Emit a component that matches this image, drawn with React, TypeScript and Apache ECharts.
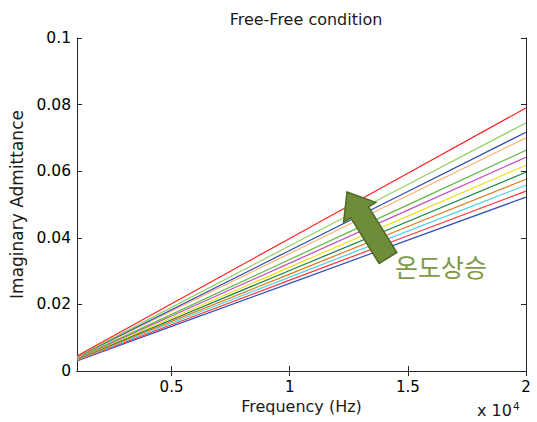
import React, { useEffect, useRef } from "react";
import * as echarts from "echarts";

const frequencies = [1000, 5000, 10000, 15000, 20000];

const line1 = [0.0045, 0.0202, 0.0398, 0.0594, 0.079];
const line2 = [0.0043, 0.0191, 0.0376, 0.056, 0.0745];
const line3 = [0.0042, 0.0184, 0.0362, 0.0539, 0.0717];
const line4 = [0.0041, 0.018, 0.0353, 0.0527, 0.07];
const line5 = [0.0039, 0.017, 0.0335, 0.0499, 0.0663];
const line6 = [0.0038, 0.0165, 0.0324, 0.0483, 0.0642];
const line7 = [0.0037, 0.0159, 0.0312, 0.0465, 0.0618];
const line8 = [0.0036, 0.0154, 0.0302, 0.0449, 0.0597];
const line9 = [0.0035, 0.0149, 0.0291, 0.0434, 0.0576];
const line10 = [0.0033, 0.0144, 0.0282, 0.042, 0.0558];
const line11 = [0.0032, 0.0139, 0.0273, 0.0406, 0.054];
const line12 = [0.003, 0.0134, 0.0263, 0.0393, 0.0522];

const allLines = [line1, line2, line3, line4, line5, line6, line7, line8, line9, line10, line11, line12];
const lineColors = [
  "#ff2020", "#8fd060", "#2848b0", "#ffb070", "#60b840", "#c050c0",
  "#f0e020", "#108040", "#e07818", "#50d0e8", "#ff3838", "#3050c0",
];

const xTicks = [5000, 10000, 15000, 20000];

const FONT = "'DejaVu Sans', sans-serif";

export default function App() {
  const ref = useRef<HTMLDivElement>(null);
  useEffect(() => {
    if (!ref.current) return;
    const chart = echarts.init(ref.current, null, { renderer: "svg" });
    const axisLine = { show: true, lineStyle: { color: "#262626", width: 1 } };
    const tick = { show: true, inside: true, length: 5, lineStyle: { color: "#262626" } };
    const option: any = {
      animation: false,
      backgroundColor: "#ffffff",
      title: {
        text: "Free-Free condition",
        left: 301,
        top: 6,
        textAlign: "center",
        textStyle: { fontFamily: FONT, fontSize: 16, fontWeight: "normal", color: "#1a1a1a" },
      },
      grid: { left: 77, right: 11, top: 38, bottom: 51, containLabel: false, outerBoundsMode: "none" },
      xAxis: [
        {
          type: "value",
          min: 1000,
          max: 20000,
          position: "bottom",
          axisLine,
          axisTick: { ...tick, customValues: xTicks },
          splitLine: { show: false },
          axisLabel: {
            customValues: xTicks,
            formatter: (v: number) => String(v / 10000),
            fontFamily: FONT,
            fontSize: 15,
            color: "#000",
            margin: 8,
          },
          name: "Frequency (Hz)",
          nameLocation: "middle",
          nameGap: 17,
          nameTextStyle: { fontFamily: FONT, fontSize: 16, color: "#1a1a1a" },
        },
        {
          type: "value",
          min: 1000,
          max: 20000,
          position: "top",
          axisLine,
          axisTick: { ...tick, customValues: xTicks },
          splitLine: { show: false },
          axisLabel: { show: false, customValues: xTicks },
        },
      ],
      yAxis: [
        {
          type: "value",
          min: 0,
          max: 0.1,
          interval: 0.02,
          position: "left",
          axisLine,
          axisTick: tick,
          splitLine: { show: false },
          axisLabel: {
            formatter: (v: number) => String(parseFloat(v.toFixed(2))),
            fontFamily: FONT,
            fontSize: 15.5,
            color: "#000",
            margin: 6,
          },
          name: "Imaginary Admittance",
          nameLocation: "middle",
          nameGap: 39,
          nameTextStyle: { fontFamily: FONT, fontSize: 17, color: "#1a1a1a" },
        },
        {
          type: "value",
          min: 0,
          max: 0.1,
          interval: 0.02,
          position: "right",
          axisLine,
          axisTick: tick,
          splitLine: { show: false },
          axisLabel: { show: false },
        },
      ],
      series: allLines
        .map((vals, i) => ({
          type: "line",
          name: "T" + (i + 1),
          xAxisIndex: 0,
          yAxisIndex: 0,
          data: frequencies.map((f, j) => [f, vals[j]]),
          showSymbol: false,
          symbol: "none",
          lineStyle: { color: lineColors[i], width: 1.2 },
          itemStyle: { color: lineColors[i] },
          z: 2 + (12 - i),
        }))
        .reverse(),
      graphic: [
        {
          type: "polygon",
          z: 100,
          shape: {
            points: [
              [347, 192],
              [375.8, 202.4],
              [368.6, 206.9],
              [396.9, 252.5],
              [379.1, 263.5],
              [350.8, 217.9],
              [343.6, 222.4],
            ],
          },
          style: { fill: "#6f8c38", stroke: "#4f6a26", lineWidth: 1.5 },
        },
        {
          type: "text",
          z: 100,
          x: 395,
          y: 253,
          style: {
            text: "온도상승",
            fontFamily: "'Noto Sans CJK KR', sans-serif",
            fontSize: 25,
            fill: "#7c9a48",
          },
        },
        {
          type: "text",
          z: 100,
          x: 477,
          y: 400,
          style: {
            text: "x 10{s|4}",
            fontFamily: FONT,
            fontSize: 16,
            fill: "#1a1a1a",
            rich: {
              s: { fontFamily: FONT, fontSize: 10.5, fill: "#1a1a1a", verticalAlign: "top", padding: [0, 0, 9, 1] },
            },
          },
        },
      ],
    };
    chart.setOption(option);
    return () => chart.dispose();
  }, []);
  return (
    <div
      ref={ref}
      style={{ position: "fixed", left: 0, top: 0, width: 537, height: 422, background: "#fff" }}
    />
  );
}
